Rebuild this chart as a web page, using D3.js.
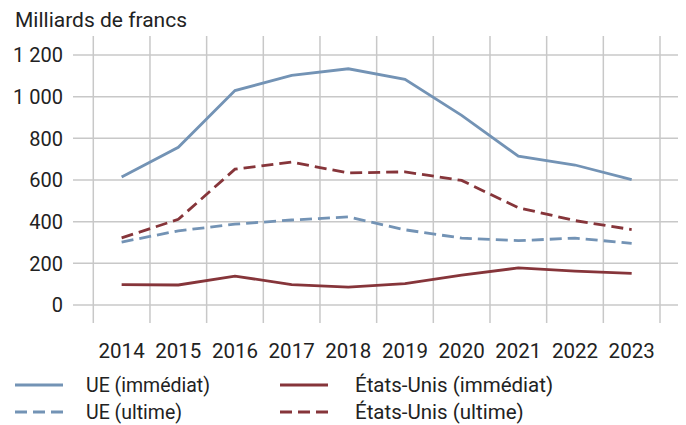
<!DOCTYPE html>
<html><head>
<meta charset="utf-8">
<script src="https://d3js.org/d3.v7.min.js"></script>
<style>
  body { margin: 0; background: #fff; }
  text { font-family: Roboto, "Liberation Sans", sans-serif; fill: #222; }
  .grid line { stroke: #c8c8c8; stroke-width: 1.5px; }
</style>
</head>
<body>
<svg id="chart" width="686" height="425"></svg>
<script>
// data (milliards de francs)
const years = ["2014","2015","2016","2017","2018","2019","2020","2021","2022","2023"];
const ueImmediat = [614, 757, 1029, 1102, 1134, 1083, 910, 714, 672, 602];
const ueUltime   = [302, 356, 388, 408, 423, 361, 321, 309, 321, 296];
const usImmediat = [98, 96, 139, 98, 86, 103, 143, 178, 163, 152];
const usUltime   = [322, 411, 652, 686, 634, 639, 598, 467, 405, 362];
const yTicks = [0, 200, 400, 600, 800, 1000, 1200];

const series = [
  {name: "UE (immédiat)", values: ueImmediat, color: "#7393b5", dash: null},
  {name: "UE (ultime)", values: ueUltime, color: "#7393b5", dash: "12,6"},
  {name: "États-Unis (immédiat)", values: usImmediat, color: "#86353a", dash: null},
  {name: "États-Unis (ultime)", values: usUltime, color: "#86353a", dash: "12,6"}
];

const svg = d3.select("#chart");

const x = d3.scaleBand().domain(years).range([93.3, 660]);
const y = d3.scaleLinear().domain([0, 1200]).range([305, 55]);

// gridlines
const grid = svg.append("g").attr("class", "grid");
grid.selectAll(".h").data(yTicks).join("line")
  .attr("x1", 73).attr("x2", 678)
  .attr("y1", d => y(d)).attr("y2", d => y(d));
const edges = years.map(d => x(d)).concat([x.range()[1]]);
grid.selectAll(".v").data(edges).join("line")
  .attr("x1", d => d).attr("x2", d => d)
  .attr("y1", 36).attr("y2", 323);

// y labels (space as thousands separator)
svg.append("g").selectAll("text").data(yTicks).join("text")
  .attr("x", 63).attr("y", d => y(d))
  .attr("dy", "0.36em")
  .attr("text-anchor", "end")
  .style("font-size", "20px")
  .text(d => d >= 1000 ? String(d).slice(0,1) + " " + String(d).slice(1) : d);

// x labels
svg.append("g").selectAll("text").data(years).join("text")
  .attr("x", d => x(d) + x.bandwidth() / 2).attr("y", 358)
  .attr("text-anchor", "middle")
  .style("font-size", "20.5px")
  .text(d => d);

// title
svg.append("text").attr("x", 15).attr("y", 27)
  .style("font-size", "21px")
  .text("Milliards de francs");

// lines
const line = d3.line()
  .x((d, i) => x(years[i]) + x.bandwidth() / 2)
  .y(d => y(d));

svg.append("g").selectAll("path").data(series).join("path")
  .attr("d", d => line(d.values))
  .attr("fill", "none")
  .attr("stroke", d => d.color)
  .attr("stroke-width", 2.8)
  .attr("stroke-dasharray", d => d.dash);

// legend
const legendPos = [[15, 385], [15, 412], [280, 385], [280, 412]];
const legend = svg.append("g").selectAll("g").data(series).join("g")
  .attr("transform", (d, i) => "translate(" + legendPos[i][0] + "," + legendPos[i][1] + ")");
legend.append("line")
  .attr("x1", 0).attr("x2", 48).attr("y1", 0).attr("y2", 0)
  .attr("stroke", d => d.color)
  .attr("stroke-width", 2.8)
  .attr("stroke-dasharray", d => d.dash ? "12,6" : null);
legend.append("text")
  .attr("x", (d, i) => i < 2 ? 71 : 75).attr("y", 0).attr("dy", "0.36em")
  .style("font-size", (d, i) => i < 2 ? "19.5px" : "20.5px")
  .text(d => d.name);
</script>
</body></html>
